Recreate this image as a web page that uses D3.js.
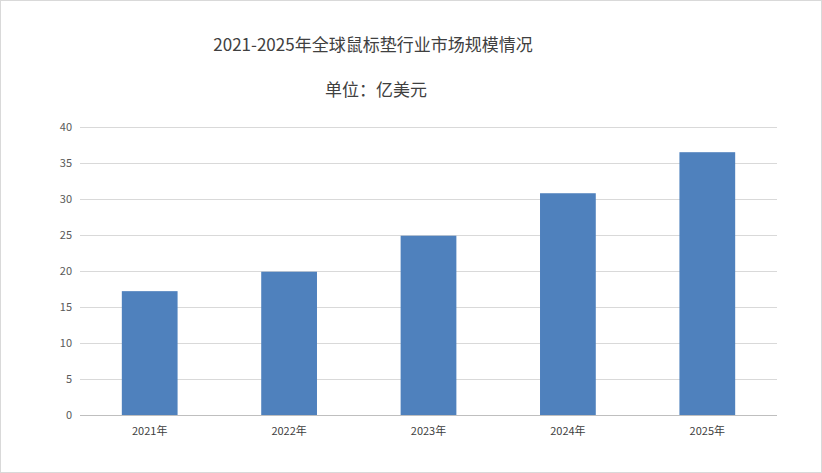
<!DOCTYPE html>
<html><head><meta charset="utf-8">
<script src="https://cdn.jsdelivr.net/npm/d3@7"></script>
<style>body{margin:0;background:#fff}</style></head>
<body><svg id="c" width="822" height="473"></svg>
<script>
const categories=["2021年","2022年","2023年","2024年","2025年"];
const values=[17.2,19.9,24.9,30.8,36.5];
const yTicks=[0,5,10,15,20,25,30,35,40];
const svg=d3.select("#c");
const font="'Noto Sans CJK SC','Microsoft YaHei',sans-serif";
svg.append("rect").attr("x",0.5).attr("y",0.5).attr("width",821).attr("height",472).attr("fill","#fff").attr("stroke","#d9d9d9");
const x=d3.scaleBand().domain(categories).range([80,777]).paddingInner(0.6).paddingOuter(0.3);
const y=d3.scaleLinear().domain([0,40]).range([415,127]);
svg.append("g").selectAll("line").data(yTicks).join("line")
 .attr("x1",80).attr("x2",777).attr("y1",d=>y(d)+0.5).attr("y2",d=>y(d)+0.5)
 .attr("stroke",d=>d===0?"#bfbfbf":"#d9d9d9");
svg.append("g").selectAll("text").data(yTicks).join("text")
 .attr("x",72).attr("y",d=>y(d)+4).attr("text-anchor","end").attr("font-size",11).attr("fill","#595959").attr("font-family",font).text(d=>d);
svg.append("g").selectAll("rect").data(values).join("rect")
 .attr("x",(d,i)=>x(categories[i])).attr("width",x.bandwidth())
 .attr("y",d=>y(d)).attr("height",d=>y(0)-y(d)).attr("fill","#4f81bd");
svg.append("g").selectAll("text").data(categories).join("text")
 .attr("x",d=>x(d)+x.bandwidth()/2).attr("y",435).attr("text-anchor","middle").attr("font-size",11).attr("fill","#404040").attr("font-family",font).text(d=>d);
svg.append("text").attr("x",373).attr("y",51).attr("text-anchor","middle").attr("font-size",17).attr("fill","#404040").attr("font-family",font).text("2021-2025年全球鼠标垫行业市场规模情况");
svg.append("text").attr("x",376).attr("y",96).attr("text-anchor","middle").attr("font-size",17).attr("fill","#404040").attr("font-family",font).text("单位：亿美元");
</script></body></html>
